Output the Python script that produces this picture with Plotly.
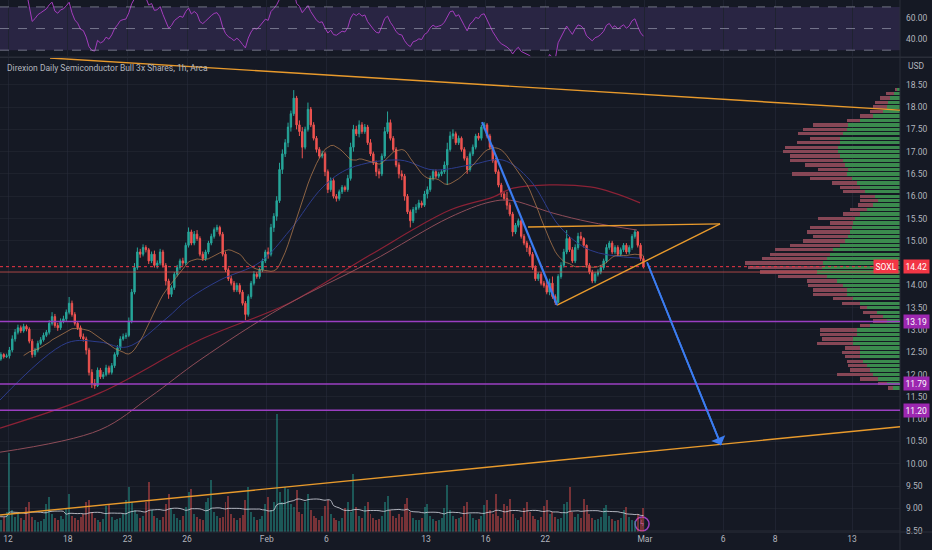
import plotly.graph_objects as go
import pandas as pd

# ---------------- data ----------------
days = ["Jan 10", "Jan 11", "Jan 12", "Jan 13", "Jan 17", "Jan 18", "Jan 19", "Jan 20",
        "Jan 23", "Jan 24", "Jan 25", "Jan 26", "Jan 27", "Jan 30", "Jan 31",
        "Feb 1", "Feb 2", "Feb 3", "Feb 6", "Feb 7", "Feb 8", "Feb 9", "Feb 10",
        "Feb 13", "Feb 14", "Feb 15", "Feb 16", "Feb 17", "Feb 21", "Feb 22",
        "Feb 23", "Feb 24", "Feb 27", "Feb 28"]
bars_per_day = 7
first_day_index = -2          # "Jan 12" is day 0 on the time scale
first_open = 11.95

close = [
    12.00, 12.10, 12.05, 12.15, 12.20, 12.10, 12.15,
    12.20, 12.30, 12.25, 12.35, 12.45, 12.40, 12.42,
    12.55, 12.80, 12.95, 13.05, 12.98, 13.08, 13.02,
    12.75, 12.45, 12.55, 12.70, 12.78, 12.88, 12.95,
    13.15, 13.30, 13.10, 13.05, 13.20, 13.25, 13.40,
    13.60, 13.35, 13.15, 13.05, 12.85, 12.80, 12.55,
    12.05, 11.80, 11.75, 12.10, 11.95, 12.00, 12.15,
    12.05, 12.20, 12.45, 12.60, 12.80, 12.85, 12.88,
    13.20, 13.85, 14.40, 14.75, 14.70, 14.85, 14.80,
    14.55, 14.70, 14.45, 14.50, 14.75, 14.45, 14.10,
    13.80, 13.95, 14.25, 14.40, 14.55, 14.50, 14.90,
    15.20, 14.95, 15.15, 15.05, 14.70, 14.60, 14.75,
    14.95, 15.10, 15.25, 15.30, 15.15, 14.70, 14.35,
    14.15, 14.05, 13.90, 14.00, 13.85, 13.60, 13.35,
    13.75, 14.05, 14.25, 14.20, 14.35, 14.55, 14.75,
    14.70, 15.30, 15.55, 15.90, 16.60, 16.95, 17.20,
    17.55, 17.85, 18.20, 17.60, 17.45, 17.10, 17.50,
    17.95, 17.60, 17.30, 17.05, 16.90, 16.95, 16.55,
    16.15, 16.35, 16.00, 15.95, 16.10, 16.20, 16.15,
    16.40, 17.10, 17.50, 17.40, 17.60, 17.45, 17.55,
    17.20, 16.95, 16.75, 16.55, 16.50, 16.90, 17.45,
    17.65, 17.30, 17.05, 16.70, 16.50, 16.45, 16.00,
    15.65, 15.45, 15.70, 15.75, 15.85, 15.80, 16.05,
    16.15, 16.40, 16.55, 16.45, 16.50, 16.55, 16.70,
    17.05, 17.35, 17.40, 17.20, 17.30, 17.05, 16.85,
    16.60, 16.95, 17.10, 17.35, 17.30, 17.55, 17.60,
    17.35, 17.10, 16.80, 16.55, 16.25, 16.05, 15.95,
    15.80, 15.60, 15.20, 15.35, 15.45, 15.10, 14.95,
    14.85, 14.70, 14.40, 14.15, 14.25, 14.05, 14.00,
    13.85, 14.05, 13.75, 13.62, 14.20, 14.45, 14.75,
    15.05, 14.80, 14.55, 14.85, 15.10, 15.05, 14.90,
    14.45, 14.30, 14.10, 14.25, 14.30, 14.40, 14.55,
    14.85, 14.95, 14.75, 14.85, 14.70, 14.80, 14.90,
    14.75, 14.85, 15.10, 15.20, 14.90, 14.60, 14.42,
]
high = [
    12.05, 12.15, 12.14, 12.20, 12.26, 12.22, 12.20,
    12.26, 12.34, 12.33, 12.39, 12.50, 12.48, 12.47,
    12.62, 12.88, 13.02, 13.12, 13.10, 13.14, 13.12,
    13.06, 12.80, 12.60, 12.76, 12.84, 12.94, 13.00,
    13.22, 13.40, 13.36, 13.16, 13.26, 13.32, 13.46,
    13.74, 13.66, 13.40, 13.20, 13.10, 12.92, 12.85,
    12.60, 12.12, 11.90, 12.16, 12.15, 12.06, 12.22,
    12.20, 12.26, 12.50, 12.66, 12.86, 12.92, 12.94,
    13.28, 13.92, 14.50, 14.85, 14.82, 14.92, 14.90,
    14.84, 14.76, 14.78, 14.56, 14.82, 14.80, 14.50,
    14.15, 14.00, 14.30, 14.46, 14.60, 14.62, 14.96,
    15.30, 15.25, 15.22, 15.24, 15.10, 14.76, 14.80,
    15.00, 15.16, 15.30, 15.36, 15.34, 15.20, 14.76,
    14.40, 14.22, 14.10, 14.06, 14.05, 13.90, 13.65,
    13.80, 14.10, 14.32, 14.30, 14.40, 14.60, 14.80,
    14.85, 15.38, 15.62, 16.00, 16.75, 17.05, 17.28,
    17.65, 17.92, 18.38, 18.25, 17.70, 17.55, 17.56,
    18.10, 18.00, 17.66, 17.35, 17.10, 17.02, 17.00,
    16.60, 16.42, 16.40, 16.05, 16.15, 16.25, 16.24,
    16.48, 17.20, 17.60, 17.58, 17.70, 17.66, 17.62,
    17.60, 17.28, 17.00, 16.80, 16.62, 16.96, 17.55,
    17.90, 17.72, 17.35, 17.10, 16.76, 16.58, 16.50,
    16.05, 15.70, 15.76, 15.82, 15.92, 15.90, 16.12,
    16.22, 16.46, 16.60, 16.60, 16.55, 16.60, 16.78,
    17.20, 17.45, 17.50, 17.45, 17.36, 17.34, 17.10,
    16.90, 17.00, 17.16, 17.40, 17.42, 17.60, 17.66,
    17.64, 17.40, 17.15, 16.86, 16.60, 16.30, 16.12,
    16.10, 15.86, 15.65, 15.40, 15.50, 15.50, 15.15,
    15.00, 14.90, 14.75, 14.45, 14.30, 14.30, 14.10,
    14.10, 14.15, 14.20, 13.80, 14.25, 14.52, 14.82,
    15.24, 15.10, 14.86, 14.92, 15.18, 15.20, 15.08,
    14.92, 14.50, 14.35, 14.30, 14.36, 14.46, 14.60,
    14.92, 15.00, 15.00, 14.90, 14.90, 14.85, 14.95,
    14.95, 14.90, 15.15, 15.26, 15.22, 14.95, 14.66,
]
low = [
    11.90, 11.96, 12.00, 12.02, 12.12, 12.05, 12.06,
    12.10, 12.16, 12.21, 12.21, 12.31, 12.36, 12.37,
    12.36, 12.50, 12.74, 12.90, 12.93, 12.94, 12.97,
    12.70, 12.38, 12.40, 12.50, 12.66, 12.74, 12.84,
    12.90, 13.10, 13.05, 12.98, 13.00, 13.15, 13.20,
    13.35, 13.30, 13.10, 13.00, 12.80, 12.74, 12.45,
    11.98, 11.70, 11.68, 11.72, 11.90, 11.90, 11.96,
    12.00, 12.00, 12.15, 12.40, 12.55, 12.76, 12.80,
    12.84, 13.15, 13.80, 14.35, 14.62, 14.65, 14.74,
    14.48, 14.50, 14.40, 14.38, 14.45, 14.40, 14.00,
    13.70, 13.74, 13.90, 14.20, 14.35, 14.44, 14.46,
    14.85, 14.90, 14.90, 15.00, 14.65, 14.55, 14.55,
    14.70, 14.90, 15.05, 15.20, 15.10, 14.65, 14.30,
    14.10, 14.00, 13.85, 13.85, 13.80, 13.55, 13.22,
    13.30, 13.70, 14.00, 14.15, 14.15, 14.30, 14.50,
    14.60, 14.65, 15.20, 15.45, 15.85, 16.50, 16.88,
    17.10, 17.45, 17.80, 17.50, 17.35, 16.85, 17.05,
    17.45, 17.55, 17.25, 16.98, 16.85, 16.85, 16.45,
    16.07, 16.10, 15.95, 15.88, 15.90, 16.05, 16.10,
    16.10, 16.35, 17.00, 17.35, 17.32, 17.40, 17.40,
    17.15, 16.90, 16.70, 16.45, 16.40, 16.45, 16.85,
    17.40, 17.25, 17.00, 16.65, 16.40, 16.36, 15.90,
    15.60, 15.30, 15.40, 15.62, 15.70, 15.74, 15.76,
    15.95, 16.10, 16.35, 16.40, 16.40, 16.45, 16.50,
    16.25, 17.00, 17.28, 17.15, 17.15, 17.00, 16.80,
    16.50, 16.55, 16.90, 17.05, 17.25, 17.25, 17.50,
    17.30, 17.05, 16.75, 16.50, 16.20, 15.98, 15.90,
    15.70, 15.55, 15.10, 15.15, 15.30, 15.05, 14.90,
    14.75, 14.65, 14.35, 14.10, 14.10, 14.00, 13.95,
    13.80, 13.78, 13.70, 13.56, 13.60, 14.15, 14.40,
    14.70, 14.75, 14.50, 14.50, 14.80, 15.00, 14.85,
    14.40, 14.25, 14.05, 14.05, 14.20, 14.25, 14.35,
    14.50, 14.80, 14.70, 14.70, 14.65, 14.65, 14.75,
    14.70, 14.70, 14.80, 15.05, 14.85, 14.55, 14.38,
]
volume = [
    30, 12, 10, 9, 11, 14, 22,
    28, 14, 11, 10, 12, 15, 20,
    79, 22, 15, 18, 14, 12, 25,
    30, 15, 12, 10, 11, 13, 28,
    35, 18, 14, 12, 16, 13, 24,
    38, 16, 14, 12, 15, 18, 30,
    32, 20, 14, 12, 10, 13, 26,
    28, 15, 12, 13, 14, 18, 32,
    45, 30, 22, 18, 14, 16, 30,
    50, 22, 16, 14, 12, 15, 28,
    38, 24, 18, 14, 12, 16, 25,
    40, 43, 18, 15, 13, 12, 30,
    34, 52, 20, 16, 14, 15, 30,
    36, 18, 14, 12, 14, 17, 32,
    45, 20, 15, 12, 13, 16, 28,
    35, 22, 30, 118, 40, 30, 45,
    43, 28, 25, 42, 20, 18, 30,
    38, 22, 16, 14, 12, 16, 26,
    32, 18, 14, 12, 11, 14, 24,
    30, 20, 58, 25, 16, 14, 26,
    30, 18, 14, 12, 13, 16, 30,
    36, 22, 16, 14, 18, 15, 28,
    34, 20, 14, 12, 12, 14, 25,
    28, 16, 13, 11, 12, 14, 24,
    47, 22, 16, 13, 14, 15, 26,
    30, 18, 14, 12, 13, 16, 27,
    32, 22, 18, 38, 16, 14, 28,
    26, 33, 18, 14, 12, 15, 24,
    30, 20, 16, 13, 12, 15, 26,
    32, 18, 20, 15, 13, 14, 28,
    30, 45, 20, 15, 18, 14, 33,
    27, 18, 14, 12, 13, 15, 24,
    27, 16, 13, 11, 12, 14, 22,
    25, 15, 12, 11, 18, 14, 24,
]

# longer moving averages (day position, price)
ma_slow_day = [-0.40, 4.62, 9.65, 14.17, 18.19, 22.21, 24.37, 25.38, 29.25, 31.76]
ma_slow_val = [10.80, 11.59, 12.78, 13.61, 14.68, 15.69, 15.98, 16.18, 16.21, 15.85]
ma_mid_day = [-0.40, 4.62, 7.14, 9.65, 13.82, 18.19, 22.21, 24.22, 25.23, 27.39, 29.25, 31.61]
ma_mid_val = [10.26, 10.76, 11.50, 12.33, 13.52, 14.52, 15.53, 15.87, 15.91, 15.62, 15.42, 15.24]
ma_blue_day = [-0.40, 2.96, 4.62, 5.98, 7.99, 8.99, 10.65, 12.66, 14.17, 15.83, 17.19,
               19.70, 21.36, 23.22, 24.87, 26.23, 27.74, 29.25, 31.76]
ma_blue_val = [11.43, 12.71, 12.73, 12.62, 13.27, 13.67, 14.12, 14.52, 15.24, 16.21, 16.63,
               16.81, 16.59, 16.70, 16.81, 16.36, 15.31, 14.79, 14.61]

# volume profile rows
vp_price = [18.4, 18.3, 18.2, 18.1, 18.0, 17.9, 17.8, 17.7, 17.6, 17.5, 17.4, 17.3, 17.2, 17.1,
            17.0, 16.9, 16.8, 16.7, 16.6, 16.5, 16.4, 16.3, 16.2, 16.1, 16.0, 15.9, 15.8, 15.7,
            15.6, 15.5, 15.4, 15.3, 15.2, 15.1, 15.0, 14.9, 14.8, 14.7, 14.6, 14.5, 14.4, 14.3,
            14.2, 14.1, 14.0, 13.9, 13.8, 13.7, 13.6, 13.5, 13.4, 13.3, 13.2, 13.1, 13.0, 12.9,
            12.8, 12.7, 12.6, 12.5, 12.4, 12.3, 12.2, 12.1, 12.0, 11.9, 11.8, 11.7]
vp_total = [5, 14, 20, 25, 27, 30, 40, 53, 87, 97, 102, 90, 103, 115,
            117, 110, 110, 95, 82, 108, 90, 68, 60, 57, 40, 40, 42, 50,
            57, 82, 70, 90, 93, 87, 97, 110, 125, 130, 138, 155, 152, 140,
            122, 93, 92, 87, 87, 67, 58, 40, 37, 30, 27, 40, 80, 80,
            78, 83, 55, 58, 55, 53, 52, 50, 63, 40, 22, 12]
vp_up = [3, 6, 10, 12, 13, 17, 27, 40, 52, 53, 57, 60, 60, 62,
         62, 60, 57, 55, 52, 53, 48, 43, 40, 35, 25, 22, 27, 33,
         40, 45, 47, 48, 50, 52, 55, 60, 67, 70, 73, 77, 78, 83,
         73, 63, 57, 53, 53, 47, 40, 33, 23, 17, 13, 30, 43, 43,
         47, 47, 40, 40, 40, 37, 33, 30, 27, 22, 13, 7]

# axis ticks (14.50 sits under the last-price label in the reference)
x_tick_pos = [0, 3, 6, 9, 13, 16, 21, 24, 27, 32, 35.93, 38.54, 42.41]
x_tick_text = ["12", "18", "23", "26", "Feb", "6", "13", "16", "22", "Mar", "6", "8", "13"]
price_ticks = [8.5, 9.0, 9.5, 10.0, 10.5, 11.0, 11.5, 12.0, 12.5, 13.0, 13.5, 14.0,
               15.0, 15.5, 16.0, 16.5, 17.0, 17.5, 18.0, 18.5]

# levels and drawings
last_price = 14.42
prev_close_line = 14.30
support_levels = [13.19, 11.79, 11.20]
orange_upper = [(2.11, 19.10), (44.82, 17.93)]
orange_lower = [(-0.40, 8.85), (44.82, 10.83)]
tri_top = [(26.13, 15.31), (35.78, 15.38)]
tri_bottom = [(27.59, 13.56), (35.78, 15.38)]
blue_leg = [(23.82, 17.66), (27.59, 13.56)]
blue_arrow = [(32.11, 14.52), (35.83, 10.42)]
flash_icon = (31.86, 8.65)

# ---------------- derived series ----------------
opens = [first_open] + close[:-1]
bar_x = [(i // bars_per_day) + first_day_index + ((i % bars_per_day) + 0.5) / bars_per_day
         for i in range(len(close))]
s_close = pd.Series(close)
ma_fast = s_close.rolling(20).mean()
delta = s_close.diff()
gain = delta.clip(lower=0).ewm(alpha=1 / 14, adjust=False).mean()
loss = (-delta.clip(upper=0)).ewm(alpha=1 / 14, adjust=False).mean()
rsi = 100 - 100 / (1 + gain / loss)
vol_ma = pd.Series(volume).rolling(20, min_periods=5).mean()
vol_colors = ["rgba(38,166,154,0.45)" if c >= o else "rgba(239,83,80,0.45)"
              for o, c in zip(opens, close)]

BG = "#151924"
TXT = "#b2b5be"
FONT = "Roboto"

fig = go.Figure()

# RSI
fig.add_trace(go.Scatter(x=bar_x[14:], y=rsi[14:], xaxis="x", yaxis="y", mode="lines",
                         line=dict(color="#a43dbd", width=1)))
# volume
fig.add_trace(go.Bar(x=bar_x, y=volume, xaxis="x", yaxis="y3", width=0.1,
                     marker=dict(color=vol_colors, line=dict(width=0))))
fig.add_trace(go.Scatter(x=bar_x, y=vol_ma, xaxis="x", yaxis="y3", mode="lines",
                         line=dict(color="rgba(215,218,228,0.8)", width=1, shape="spline")))
# volume profile
fig.add_trace(go.Bar(y=vp_price, x=vp_total, orientation="h", xaxis="x2", yaxis="y2",
                     width=0.075, marker=dict(color="#874756", line=dict(width=0))))
fig.add_trace(go.Bar(y=vp_price, x=vp_up, orientation="h", xaxis="x2", yaxis="y2",
                     width=0.075, marker=dict(color="#3b8a4e", line=dict(width=0))))
# moving averages
fig.add_trace(go.Scatter(x=ma_slow_day, y=ma_slow_val, xaxis="x", yaxis="y2", mode="lines",
                         line=dict(color="#8c2236", width=1.2, shape="spline")))
fig.add_trace(go.Scatter(x=ma_mid_day, y=ma_mid_val, xaxis="x", yaxis="y2", mode="lines",
                         line=dict(color="#8e4c58", width=1, shape="spline")))
fig.add_trace(go.Scatter(x=ma_blue_day, y=ma_blue_val, xaxis="x", yaxis="y2", mode="lines",
                         line=dict(color="#2c3c8c", width=1, shape="spline")))
fig.add_trace(go.Scatter(x=bar_x, y=ma_fast, xaxis="x", yaxis="y2", mode="lines",
                         line=dict(color="rgba(190,130,80,0.7)", width=1)))
# candles
fig.add_trace(go.Candlestick(x=bar_x, open=opens, high=high, low=low, close=close,
                             xaxis="x", yaxis="y2", whiskerwidth=0,
                             increasing=dict(line=dict(color="#26a69a", width=1), fillcolor="#26a69a"),
                             decreasing=dict(line=dict(color="#ef5350", width=1), fillcolor="#ef5350")))
# flash icon
fig.add_trace(go.Scatter(x=[flash_icon[0]], y=[flash_icon[1]], xaxis="x", yaxis="y2",
                         mode="markers+text", text=["ϟ"], textposition="middle center",
                         textfont=dict(color="#c77dff", size=9),
                         marker=dict(symbol="circle-open", size=14,
                                     line=dict(color="#9c3fc0", width=1.5), color="#9c3fc0")))

shapes = []
# RSI band and guide lines
shapes.append(dict(type="rect", xref="paper", yref="y", x0=0, x1=1, y0=30, y1=70,
                   fillcolor="rgba(126,87,194,0.2)", line=dict(width=0), layer="below"))
for lvl in (30, 50, 70):
    shapes.append(dict(type="line", xref="paper", yref="y", x0=0, x1=1, y0=lvl, y1=lvl,
                       line=dict(color="rgba(170,172,190,0.6)", width=1, dash="dash")))
# pane separators
shapes.append(dict(type="line", xref="paper", yref="paper", x0=0, x1=1.04, y0=0.8925, y1=0.8925,
                   line=dict(color="#2a2e39", width=1.5)))
shapes.append(dict(type="line", xref="paper", yref="paper", x0=0, x1=1.04, y0=0, y1=0,
                   line=dict(color="#2a2e39", width=1)))
shapes.append(dict(type="line", xref="paper", yref="paper", x0=1, x1=1, y0=-0.04, y1=1,
                   line=dict(color="#2a2e39", width=1)))
# price lines
shapes.append(dict(type="line", xref="paper", yref="y2", x0=0, x1=1, y0=prev_close_line,
                   y1=prev_close_line, line=dict(color="rgba(205,80,75,0.8)", width=1)))
shapes.append(dict(type="line", xref="paper", yref="y2", x0=0, x1=1, y0=last_price,
                   y1=last_price, line=dict(color="#f23645", width=1, dash="dot")))
for lvl in support_levels:
    shapes.append(dict(type="line", xref="paper", yref="y2", x0=0, x1=1, y0=lvl, y1=lvl,
                       line=dict(color="#9b3fc2", width=1.6)))
# drawings
for seg, col, w in [(orange_upper, "#e89a2c", 1.4), (orange_lower, "#e89a2c", 1.4),
                    (tri_top, "#e89a2c", 1.4), (tri_bottom, "#e89a2c", 1.4),
                    (blue_leg, "#3b7cf0", 2.2), (blue_arrow, "#3b7cf0", 1.8)]:
    shapes.append(dict(type="line", xref="x", yref="y2", x0=seg[0][0], y0=seg[0][1],
                       x1=seg[1][0], y1=seg[1][1], line=dict(color=col, width=w)))

annotations = [
    dict(xref="paper", yref="paper", x=0.0055, y=0.872, xanchor="left", yanchor="middle",
         text="Direxion Daily Semiconductor Bull 3x Shares, 1h, Arca", showarrow=False,
         font=dict(color=TXT, size=8.5, family=FONT)),
    dict(xref="paper", yref="paper", x=1.007, y=0.876, xanchor="left", yanchor="middle",
         text="USD", showarrow=False, font=dict(color=TXT, size=8.5, family=FONT)),
    dict(xref="paper", yref="y2", x=0.999, y=last_price, xanchor="right", yanchor="middle",
         text="SOXL", showarrow=False, bgcolor="#f23645", borderpad=1.5,
         font=dict(color="white", size=8.5, family=FONT)),
    dict(xref="paper", yref="y2", x=1.003, y=last_price, xanchor="left", yanchor="middle",
         text=f"{last_price:.2f}", showarrow=False, bgcolor="#f23645", borderpad=1.5,
         font=dict(color="white", size=8.5, family=FONT)),
    dict(xref="x", yref="y2", axref="x", ayref="y2", x=blue_arrow[1][0], y=blue_arrow[1][1],
         ax=blue_arrow[0][0], ay=blue_arrow[0][1], text="", showarrow=True,
         arrowhead=1, arrowsize=1.4, arrowwidth=1.8, arrowcolor="#3b7cf0"),
]
for lvl in support_levels:
    annotations.append(dict(xref="paper", yref="y2", x=1.003, y=lvl, xanchor="left",
                            yanchor="middle", text=f"{lvl:.2f}", showarrow=False,
                            bgcolor="#9c27b0", borderpad=1.5,
                            font=dict(color="white", size=8.5, family=FONT)))

fig.update_layout(
    width=932, height=550,
    margin=dict(l=0, r=32, t=0, b=18),
    paper_bgcolor=BG, plot_bgcolor=BG,
    showlegend=False, barmode="overlay", bargap=0,
    font=dict(family=FONT, color=TXT, size=8.5),
    shapes=shapes, annotations=annotations,
    xaxis=dict(domain=[0, 1], range=[-0.402, 44.82], anchor="y2",
               tickmode="array", tickvals=x_tick_pos, ticktext=x_tick_text,
               showgrid=True, gridcolor="#1f2331", gridwidth=1, zeroline=False,
               showline=False, ticks="", tickfont=dict(size=8.5, color=TXT),
               rangeslider=dict(visible=False), fixedrange=True),
    xaxis2=dict(overlaying="x", anchor="y2", range=[900, 0], visible=False),
    yaxis=dict(domain=[0.8945, 1], range=[24.5, 76.4], anchor="x", side="right",
               tickmode="array", tickvals=[40, 60], ticktext=["40.00", "60.00"],
               showgrid=False, zeroline=False, ticks="", ticklabelstandoff=5,
               tickfont=dict(size=8.5, color=TXT)),
    yaxis2=dict(domain=[0, 0.891], range=[8.47, 19.10], anchor="x", side="right",
                tickmode="array", tickvals=price_ticks,
                ticktext=[f"{v:.2f}" for v in price_ticks],
                showgrid=True, gridcolor="rgba(42,46,57,0.45)", zeroline=False, ticks="",
                ticklabelstandoff=5, tickfont=dict(size=8.5, color=TXT)),
    yaxis3=dict(overlaying="y2", range=[0, 474], visible=False),
)

fig.write_html("out.html", config={"displayModeBar": False},
               post_script="document.body.style.margin='0';"
                           "document.body.style.background='#151924';")
